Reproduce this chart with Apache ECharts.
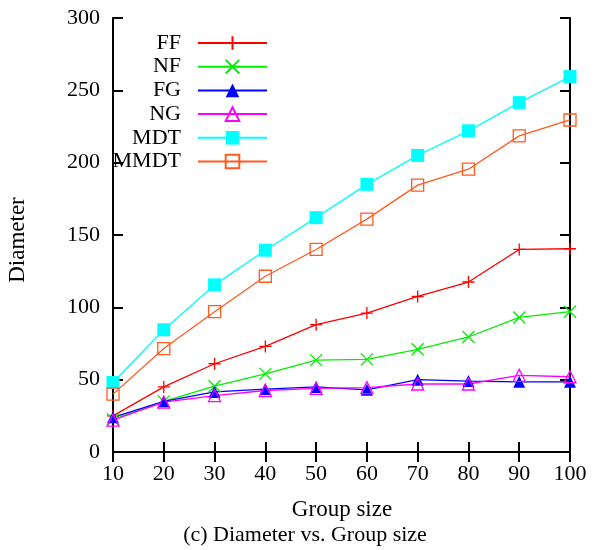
<!DOCTYPE html>
<html>
<head>
<meta charset="utf-8">
<script src="https://cdn.jsdelivr.net/npm/echarts@6/dist/echarts.min.js"></script>
<style>
html,body{margin:0;padding:0;background:#fff;}
#chart{width:593px;height:550px;}
</style>
</head>
<body>
<div id="chart"></div>
<script>
var groupSizes = [10, 20, 30, 40, 50, 60, 70, 80, 90, 100];
var FF   = [25, 45, 61, 73, 88, 96, 107.5, 117.5, 140, 140.5];
var NF   = [22.5, 35, 45.5, 54, 63.5, 64, 71, 79.5, 93, 97];
var FG   = [24, 35, 41.5, 43.5, 45, 43, 50, 49, 48.5, 48.5];
var NG   = [22, 34.5, 39, 42.5, 44, 44.5, 47, 47, 53, 52];
var MDT  = [48, 84.5, 115.5, 139.5, 162, 185, 205, 222, 241.5, 259.5];
var MMDT = [40, 71.5, 97, 121.5, 140, 161, 184.5, 195.5, 218.5, 229.5];
var yTicks = [0, 50, 100, 150, 200, 250, 300];

var FONT = '"Liberation Serif", "DejaVu Serif", serif';
var PLUS = 'path://M0,5L10,5M5,0L5,10';
var CROSS = 'path://M0,0L10,10M0,10L10,0';

function pairs(vals) {
  return groupSizes.map(function (x, i) { return [x, vals[i]]; });
}

function mk(name, vals, color, symbol, size, filled, stroked) {
  return {
    name: name,
    type: 'line',
    data: pairs(vals),
    symbol: symbol,
    symbolSize: size,
    showAllSymbol: true,
    lineStyle: { color: color, width: 1.3 },
    itemStyle: {
      color: filled ? color : 'rgba(255,255,255,0)',
      borderColor: color,
      borderWidth: stroked ? 1.3 : 0
    },
    emphasis: { disabled: true },
    animation: false
  };
}

var chart = echarts.init(document.getElementById('chart'));
var axisLine = { show: true, lineStyle: { color: '#000', width: 2 } };
var tick = { show: true, inside: true, length: 10, lineStyle: { color: '#000', width: 2 } };

chart.setOption({
  backgroundColor: '#fff',
  animation: false,
  grid: { left: 113, right: 23, top: 18, bottom: 98 },
  legend: {
    orient: 'vertical',
    align: 'right',
    right: 325,
    top: 32,
    padding: 0,
    itemWidth: 69,
    itemHeight: 17,
    itemGap: 1.7,
    selectedMode: false,
    textStyle: { fontFamily: FONT, fontSize: 22, color: '#000', lineHeight: 20, padding: [0, 12, 0, 0] },
    data: ['FF', 'NF', 'FG', 'NG', 'MDT', 'MMDT']
  },
  xAxis: [{
    type: 'value', min: 10, max: 100, interval: 10,
    axisLine: axisLine, axisTick: tick, splitLine: { show: false },
    axisLabel: { fontFamily: FONT, fontSize: 22, color: '#000', margin: 11 }
  }, {
    type: 'value', position: 'top', min: 10, max: 100, interval: 10,
    axisLine: axisLine, axisTick: tick, splitLine: { show: false },
    axisLabel: { show: false }
  }],
  yAxis: [{
    type: 'value', min: yTicks[0], max: yTicks[yTicks.length - 1], interval: yTicks[1] - yTicks[0],
    axisLine: axisLine, axisTick: tick, splitLine: { show: false },
    axisLabel: { fontFamily: FONT, fontSize: 22, color: '#000', margin: 13 }
  }, {
    type: 'value', position: 'right', min: yTicks[0], max: yTicks[yTicks.length - 1], interval: yTicks[1] - yTicks[0],
    axisLine: axisLine, axisTick: tick, splitLine: { show: false },
    axisLabel: { show: false }
  }],
  series: [
    mk('FF', FF, '#ff0000', PLUS, 12, false, true),
    mk('NF', NF, '#00ee00', CROSS, 12, false, true),
    mk('FG', FG, '#0000ff', 'triangle', 12, true, false),
    mk('NG', NG, '#ff00ff', 'triangle', 12, false, true),
    mk('MDT', MDT, '#00ffff', 'rect', 13, true, false),
    mk('MMDT', MMDT, '#ff5a1f', 'rect', 12, false, true)
  ],
  graphic: [
    { type: 'text', x: 18, y: 240, rotation: Math.PI / 2,
      style: { text: 'Diameter', font: '23px ' + FONT, fill: '#000', textAlign: 'center', textVerticalAlign: 'middle' } },
    { type: 'text', x: 342, y: 510,
      style: { text: 'Group size', font: '23px ' + FONT, fill: '#000', textAlign: 'center', textVerticalAlign: 'middle' } },
    { type: 'text', x: 305, y: 535,
      style: { text: '(c) Diameter vs. Group size', font: '22px ' + FONT, fill: '#000', textAlign: 'center', textVerticalAlign: 'middle' } }
  ]
});
</script>
</body>
</html>
